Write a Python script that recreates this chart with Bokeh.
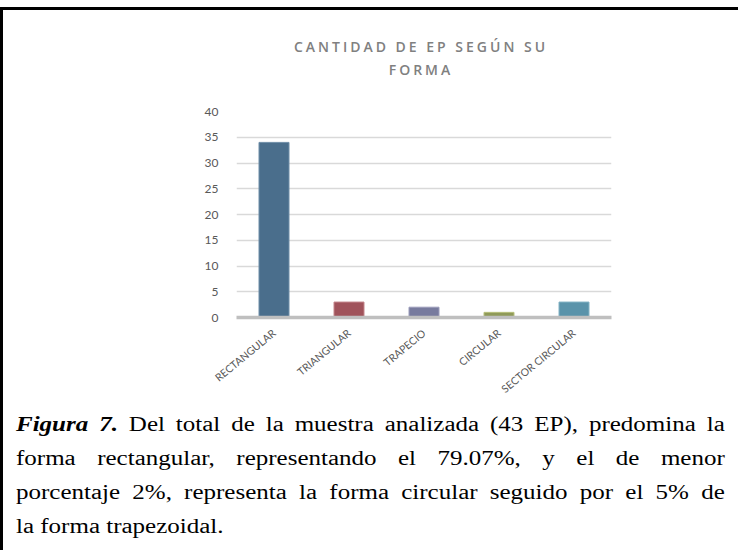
from bokeh.plotting import figure
from bokeh.models import Div, Range1d, FixedTicker, Spacer
from bokeh.layouts import column
from bokeh.embed import file_html
from bokeh.resources import INLINE

# ---- data ----
categories = ["RECTANGULAR", "TRIANGULAR", "TRAPECIO", "CIRCULAR", "SECTOR CIRCULAR"]
counts = [34, 3, 2, 1, 3]
bar_colors = ["#4a6e8c", "#a0535b", "#787b9e", "#8f9a58", "#5a93aa"]
bar_edges = ["#6f8ea8", "#c4868b", "#9a9cba", "#b7c07a", "#82b2c4"]
y_ticks = [0, 5, 10, 15, 20, 25, 30, 35, 40]
title_lines = ["CANTIDAD DE EP SEGÚN SU", "FORMA"]
caption_lead = "Figura 7."
caption_lines = [
    " Del total de la muestra analizada (43 EP), predomina la",
    "forma rectangular, representando el 79.07%, y el de menor",
    "porcentaje 2%, representa la forma circular seguido por el 5% de",
    "la forma trapezoidal.",
]

W = 727

# ---- title ----
title_html = (
    f'<div style="position:relative;width:{W}px;height:80px;">'
    '<div style="position:absolute;left:263px;top:20px;width:300px;text-align:center;'
    "font-family:'Open Sans';font-weight:600;font-size:14px;letter-spacing:3px;"
    'line-height:23px;color:#808080;">'
    + "<br>".join(title_lines)
    + "</div></div>"
)
title_div = Div(text=title_html, width=W, height=80)

# ---- chart ----
p = figure(
    x_range=categories,
    y_range=Range1d(0, 40),
    width=W,
    height=302,
    output_backend="svg",
    toolbar_location=None,
    min_border_left=233,
    min_border_right=119,
    min_border_top=11,
    min_border_bottom=83,
)
p.x_range.range_padding = 0
p.outline_line_color = None
p.background_fill_color = "white"
p.border_fill_color = "white"

p.vbar(x=categories, top=counts, width=0.4, fill_color=bar_colors,
       line_color=bar_edges, line_width=1)

p.xgrid.visible = False
p.ygrid.ticker = FixedTicker(ticks=y_ticks)
p.ygrid.grid_line_color = "#d9d9d9"
p.ygrid.grid_line_width = 1.3

p.yaxis.ticker = FixedTicker(ticks=y_ticks)
p.yaxis.axis_line_color = None
p.yaxis.major_tick_line_color = None
p.yaxis.minor_tick_line_color = None
p.yaxis.major_label_standoff = 12
p.yaxis.major_label_text_font = "Lato"
p.yaxis.major_label_text_font_size = "12px"
p.yaxis.major_label_text_color = "#595959"

p.xaxis.axis_line_color = "#bfbfbf"
p.xaxis.axis_line_width = 3.5
p.xaxis.major_tick_line_color = None
p.xaxis.minor_tick_line_color = None
p.xaxis.major_label_orientation = 0.69
p.xaxis.major_label_standoff = 8
p.xaxis.major_label_text_font = "Lato"
p.xaxis.major_label_text_font_size = "10.5px"
p.xaxis.major_label_text_color = "#595959"

# ---- caption ----
line_divs = []
for i, ln in enumerate(caption_lines):
    txt = ln
    if i == 0:
        txt = f"<b><i>{caption_lead}</i></b>{ln}"
    if i < len(caption_lines) - 1:
        style = "text-align:justify;text-align-last:justify;"
    else:
        style = "text-align:left;"
    line_divs.append(f'<div style="{style}">{txt}</div>')

caption_html = (
    '<div style="padding-left:8px;">'
    '<div style="width:567px;transform:scaleX(1.25);transform-origin:0 0;'
    "font-family:'Liberation Serif';font-size:20px;line-height:34px;color:#000;\">"
    + "".join(line_divs)
    + "</div></div>"
)
caption_div = Div(text=caption_html, width=W, height=140)

box = column(
    title_div, p, caption_div,
    styles={"border-top": "3px solid black", "border-left": "3px solid black"},
)
root = column(Spacer(width=730, height=7), box)

open("out.html", "w").write(file_html(root, INLINE))
